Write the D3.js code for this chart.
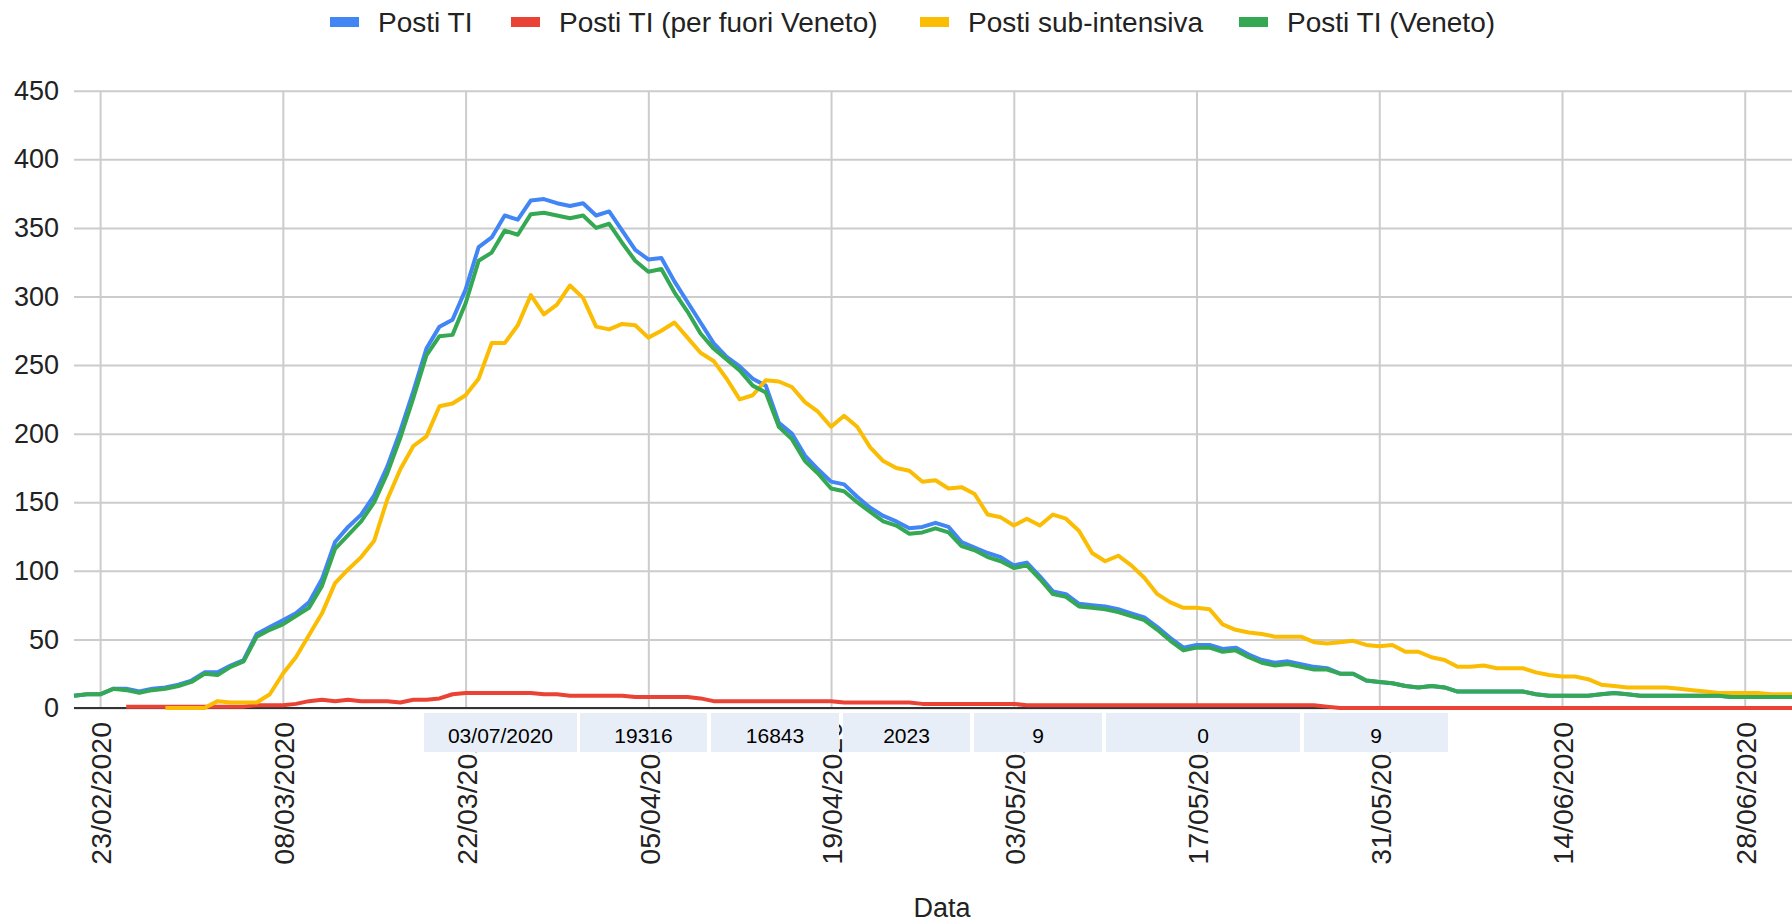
<!DOCTYPE html>
<html>
<head>
<meta charset="utf-8">
<script src="https://cdn.jsdelivr.net/npm/d3@7"></script>
<style>
  body { margin: 0; background: #fff; }
  svg { display: block; font-family: Arial, "Liberation Sans", sans-serif; }
</style>
</head>
<body>
<div id="chart"></div>
<script>
// Daily values, 21/02/2020 -> 03/07/2020 (134 days)

const firstDay = "21/02/2020";
const lastDay = "03/07/2020";

const seriesNames = ["Posti TI", "Posti TI (per fuori Veneto)", "Posti sub-intensiva", "Posti TI (Veneto)"];

const postiTI = [
  9, 10, 10, 14, 14, 12, 14, 15, 17, 20,
  26, 26, 31, 35, 54, 59, 64, 69, 77, 94,
  121, 132, 141, 155, 176, 202, 231, 262, 278, 283,
  305, 336, 343, 359, 356, 370, 371, 368, 366, 368,
  359, 362, 348, 334, 327, 328, 311, 296, 281, 266,
  256, 249, 240, 235, 208, 200, 184, 174, 165, 163,
  154, 146, 140, 136, 131, 132, 135, 132, 121, 117,
  113, 110, 104, 106, 96, 85, 83, 76, 75, 74,
  72, 69, 66, 59, 51, 44, 46, 46, 43, 44,
  39, 35, 33, 34, 32, 30, 29, 25, 25, 20,
  19, 18, 16, 15, 16, 15, 12, 12, 12, 12,
  12, 12, 10, 9, 9, 9, 9, 10, 11, 10,
  9, 9, 9, 9, 9, 9, 9, 8, 8, 8,
  8, 8, 8, 9
];

const postiFuoriVeneto = [
  null, null, null, null, 1, 1, 1, 1, 1, 1,
  1, 1, 1, 1, 2, 2, 2, 3, 5, 6,
  5, 6, 5, 5, 5, 4, 6, 6, 7, 10,
  11, 11, 11, 11, 11, 11, 10, 10, 9, 9,
  9, 9, 9, 8, 8, 8, 8, 8, 7, 5,
  5, 5, 5, 5, 5, 5, 5, 5, 5, 4,
  4, 4, 4, 4, 4, 3, 3, 3, 3, 3,
  3, 3, 3, 2, 2, 2, 2, 2, 2, 2,
  2, 2, 2, 2, 2, 2, 2, 2, 2, 2,
  2, 2, 2, 2, 2, 2, 1, 0, 0, 0,
  0, 0, 0, 0, 0, 0, 0, 0, 0, 0,
  0, 0, 0, 0, 0, 0, 0, 0, 0, 0,
  0, 0, 0, 0, 0, 0, 0, 0, 0, 0,
  0, 0, 0, 0
];

const postiSubIntensiva = [
  null, null, null, null, null, null, null, 0, 0, 0,
  0, 5, 4, 4, 4, 10, 25, 37, 53, 69,
  91, 101, 110, 122, 152, 174, 191, 198, 220, 222,
  228, 240, 266, 266, 279, 301, 287, 294, 308, 299,
  278, 276, 280, 279, 270, 275, 281, 270, 259, 253,
  240, 225, 228, 239, 238, 234, 223, 216, 205, 213,
  205, 190, 180, 175, 173, 165, 166, 160, 161, 156,
  141, 139, 133, 138, 133, 141, 138, 129, 113, 107,
  111, 104, 95, 83, 77, 73, 73, 72, 61, 57,
  55, 54, 52, 52, 52, 48, 47, 48, 49, 46,
  45, 46, 41, 41, 37, 35, 30, 30, 31, 29,
  29, 29, 26, 24, 23, 23, 21, 17, 16, 15,
  15, 15, 15, 14, 13, 12, 11, 11, 11, 11,
  10, 10, 10, 10
];

const postiVeneto = [
  9, 10, 10, 14, 13, 11, 13, 14, 16, 19,
  25, 24, 30, 34, 52, 57, 61, 67, 73, 89,
  116, 126, 136, 150, 171, 197, 226, 257, 271, 272,
  295, 326, 332, 348, 345, 360, 361, 359, 357, 359,
  350, 353, 339, 326, 318, 320, 303, 289, 273, 262,
  254, 246, 235, 230, 205, 196, 180, 171, 160, 158,
  150, 143, 136, 133, 127, 128, 131, 128, 118, 115,
  110, 107, 102, 104, 94, 83, 81, 74, 73, 72,
  70, 67, 64, 57, 49, 42, 44, 44, 41, 42,
  37, 33, 31, 32, 30, 28, 28, 25, 25, 20,
  19, 18, 16, 15, 16, 15, 12, 12, 12, 12,
  12, 12, 10, 9, 9, 9, 9, 10, 11, 10,
  9, 9, 9, 9, 9, 9, 9, 8, 8, 8,
  8, 8, 8, 9
];

const xTickLabels = ["23/02/2020", "08/03/2020", "22/03/2020", "05/04/2020", "19/04/2020",
  "03/05/2020", "17/05/2020", "31/05/2020", "14/06/2020", "28/06/2020"];
const yTickValues = [0, 50, 100, 150, 200, 250, 300, 350, 400, 450];

// spreadsheet row that sits over the chart in the screenshot
const tableRow = ["03/07/2020", "19316", "16843", "2023", "9", "0", "9"];

// ---- layout ----
const w = 1792;
const h = 923;
const plotLeft = 74;
const plotRight = 1810;   // plot runs a bit past the window edge, as in the screenshot
const plotTop = 90.7;
const plotBottom = 708;
const colors = ["#4285F4", "#EA4335", "#FBBC04", "#34A853"];
const legendX = [330, 511, 920, 1239];
const cellX = [[424, 577], [580, 707], [711, 839], [843, 970], [974, 1102], [1106, 1300], [1304, 1448]];

const parseDay = d3.timeParse("%d/%m/%Y");
const days = d3.timeDay.range(parseDay(firstDay), d3.timeDay.offset(parseDay(lastDay), 1));

const svg = d3.select("#chart")
  .append("svg")
  .attr("width", w)
  .attr("height", h)

const xScale = d3.scaleTime()
  .domain([parseDay(firstDay), parseDay(lastDay)])
  .range([plotLeft, plotRight])

const yScale = d3.scaleLinear()
  .domain([0, 450])
  .range([plotBottom, plotTop])

// horizontal gridlines + y labels
const yAxis = d3.axisLeft(yScale).tickValues(yTickValues).tickSize(-(plotRight - plotLeft)).tickPadding(15);
const gy = svg.append("g")
  .attr("transform", "translate(" + plotLeft + ",0)")
  .call(yAxis)
gy.select(".domain").remove();
gy.selectAll("line").attr("stroke", "#cccccc").attr("stroke-width", 2);
gy.selectAll("text").attr("font-size", 27).attr("fill", "#222").attr("font-family", "Arial, 'Liberation Sans', sans-serif");

// vertical gridlines + rotated date labels
const xAxis = d3.axisBottom(xScale)
  .tickValues(xTickLabels.map(parseDay))
  .tickFormat(d3.timeFormat("%d/%m/%Y"))
  .tickSize(-(plotBottom - plotTop));
const gx = svg.append("g")
  .attr("transform", "translate(0," + plotBottom + ")")
  .call(xAxis)
gx.select(".domain").remove();
gx.selectAll("line").attr("stroke", "#cccccc").attr("stroke-width", 2);
gx.selectAll("text")
  .attr("font-size", 28.5)
  .attr("fill", "#222")
  .attr("font-family", "Arial, 'Liberation Sans', sans-serif")
  .attr("text-anchor", "end")
  .attr("transform", "rotate(-90)")
  .attr("x", -14)
  .attr("y", 0)
  .attr("dy", "0.38em")

// baseline at zero
svg.append("line")
  .attr("x1", plotLeft).attr("x2", plotRight)
  .attr("y1", yScale(0)).attr("y2", yScale(0))
  .attr("stroke", "#333").attr("stroke-width", 2)

// the four series, drawn in the sheet's order
const allSeries = [postiTI, postiFuoriVeneto, postiSubIntensiva, postiVeneto];
const line = d3.line()
  .defined(d => d.v !== null)
  .x(d => xScale(d.day))
  .y(d => yScale(d.v));

allSeries.forEach((values, k) => {
  const pts = days.map((day, i) => ({ day: day, v: values[i] }));
  svg.append("path")
    .datum(pts)
    .attr("fill", "none")
    .attr("stroke", colors[k])
    .attr("stroke-width", 4)
    .attr("stroke-linejoin", "round")
    .attr("d", line)
});

// legend
const legend = svg.append("g");
seriesNames.forEach((name, k) => {
  legend.append("rect")
    .attr("x", legendX[k]).attr("y", 17)
    .attr("width", 29).attr("height", 10)
    .attr("fill", colors[k])
  legend.append("text")
    .attr("x", legendX[k] + 48).attr("y", 32)
    .attr("font-size", 28)
    .attr("fill", "#222")
    .text(name)
});

// x axis title
svg.append("text")
  .attr("x", (plotLeft + plotRight) / 2)
  .attr("y", 917)
  .attr("text-anchor", "middle")
  .attr("font-size", 27)
  .attr("fill", "#222")
  .text("Data")

// overlapping table row
const cells = svg.append("g");
tableRow.forEach((val, i) => {
  cells.append("rect")
    .attr("x", cellX[i][0]).attr("y", 713)
    .attr("width", cellX[i][1] - cellX[i][0]).attr("height", 39)
    .attr("fill", "#e8eef7")
  cells.append("text")
    .attr("x", (cellX[i][0] + cellX[i][1]) / 2)
    .attr("y", 743)
    .attr("text-anchor", "middle")
    .attr("font-size", 21)
    .attr("fill", "#000")
    .text(val)
});
</script>
</body>
</html>
